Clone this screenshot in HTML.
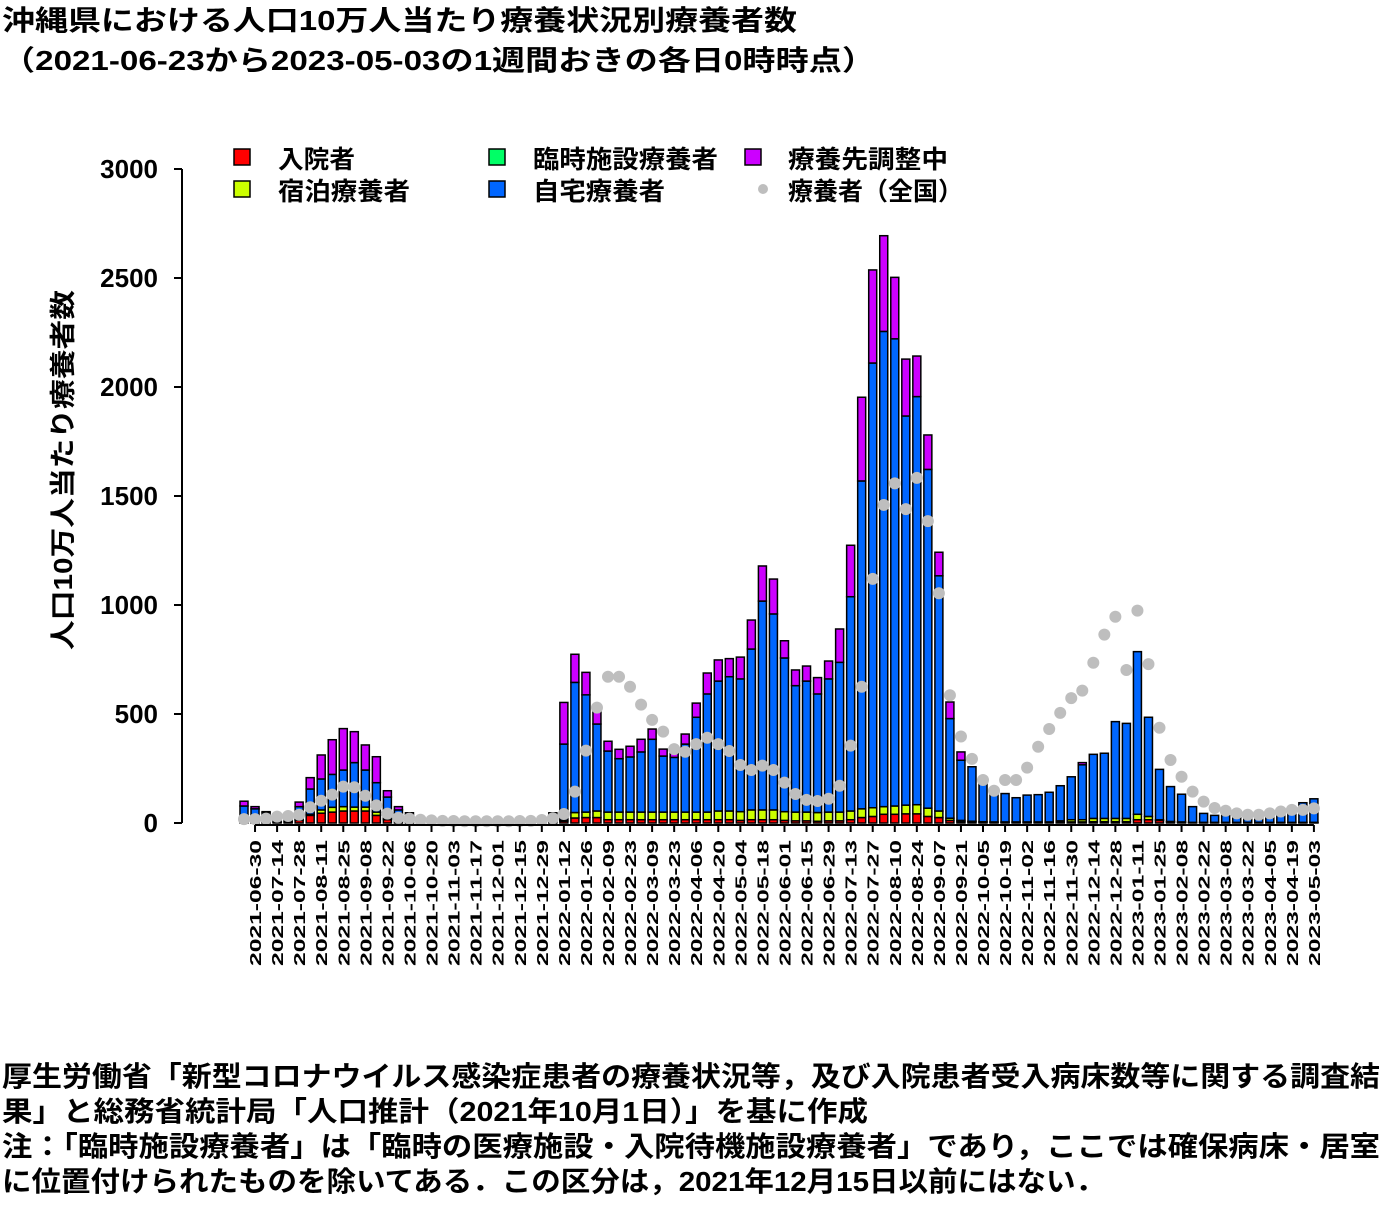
<!DOCTYPE html>
<html><head><meta charset="utf-8"><style>
body{margin:0;background:#fff;}
svg text{font-family:"Liberation Sans","Noto Sans CJK JP",sans-serif;font-weight:bold;fill:#000;}
</style></head><body>
<svg id="chart" width="1400" height="1200" xmlns="http://www.w3.org/2000/svg">
<text x="2" y="30" font-size="28" textLength="795" lengthAdjust="spacingAndGlyphs">沖縄県における人口10万人当たり療養状況別療養者数</text>
<text x="2" y="70" font-size="28" textLength="873" lengthAdjust="spacingAndGlyphs">（2021-06-23から2023-05-03の1週間おきの各日0時時点）</text>
<text transform="translate(72,470) rotate(-90)" text-anchor="middle" font-size="26" textLength="360" lengthAdjust="spacingAndGlyphs">人口10万人当たり療養者数</text>
<g id="yaxis"></g>
<g id="bars"></g>
<g id="dots"></g>
<g id="xaxis"></g>
<g>
<g><rect x="234" y="149" width="16" height="16" fill="#ff0000" stroke="#000" stroke-width="1.5"/><text x="278" y="168" font-size="25" textLength="77" lengthAdjust="spacingAndGlyphs">入院者</text></g>
<g><rect x="234" y="181" width="16" height="16" fill="#ccff00" stroke="#000" stroke-width="1.5"/><text x="278" y="200" font-size="25" textLength="132" lengthAdjust="spacingAndGlyphs">宿泊療養者</text></g>
<g><rect x="489" y="149" width="16" height="16" fill="#00ff66" stroke="#000" stroke-width="1.5"/><text x="533" y="168" font-size="25" textLength="185" lengthAdjust="spacingAndGlyphs">臨時施設療養者</text></g>
<g><rect x="489" y="181" width="16" height="16" fill="#0066ff" stroke="#000" stroke-width="1.5"/><text x="533" y="200" font-size="25" textLength="132" lengthAdjust="spacingAndGlyphs">自宅療養者</text></g>
<g><rect x="745" y="149" width="16" height="16" fill="#cc00ff" stroke="#000" stroke-width="1.5"/><text x="788" y="168" font-size="25" textLength="160" lengthAdjust="spacingAndGlyphs">療養先調整中</text></g>
<g><circle cx="763" cy="189" r="5" fill="#bebebe"/><text x="788" y="200" font-size="25" textLength="175" lengthAdjust="spacingAndGlyphs">療養者（全国）</text></g>
</g>
<g font-size="28">
<text x="2" y="1086" font-size="28" textLength="1378" lengthAdjust="spacingAndGlyphs">厚生労働省「新型コロナウイルス感染症患者の療養状況等，及び入院患者受入病床数等に関する調査結</text>
<text x="2" y="1121" font-size="28" textLength="866" lengthAdjust="spacingAndGlyphs">果」と総務省統計局「人口推計（2021年10月1日）」を基に作成</text>
<text x="2" y="1156" font-size="28" textLength="1378" lengthAdjust="spacingAndGlyphs">注：「臨時施設療養者」は「臨時の医療施設・入院待機施設療養者」であり，ここでは確保病床・居室</text>
<text x="2" y="1191" font-size="28" textLength="1103" lengthAdjust="spacingAndGlyphs">に位置付けられたものを除いてある．この区分は，2021年12月15日以前にはない．</text>
</g>
</svg>
<script>
const inpatient=[5,4,3,3,4,12,35,45,50,55,55,55,35,15,8,5,1,1,1,1,1,1,1,1,1,1,1,1,5,8,23,25,25,15,15,15,15,15,15,15,15,15,15,15,15,12,15,15,15,12,10,10,8,10,10,15,25,30,40,40,42,42,30,25,12,6,5,4,3,3,3,3,3,3,4,5,5,6,6,6,6,15,15,12,5,3,2,2,2,2,2,2,2,2,2,2,2,2];
const hotel=[2,2,2,1,2,3,5,15,22,20,18,18,15,5,3,2,1,1,1,1,1,1,1,1,1,1,1,1,3,5,25,25,30,35,35,35,35,35,35,35,35,35,35,40,40,40,45,45,45,40,40,40,40,40,40,40,40,40,35,38,40,42,38,30,10,6,3,2,2,2,2,2,2,2,6,10,10,15,15,15,15,25,15,3,2,2,1,1,1,1,1,1,1,1,1,1,1,1];
const facility=new Array(98).fill(0);
const home=[71,59,43,24,30,60,116,142,151,168,204,170,135,99,49,28,3,3,3,3,3,3,3,3,3,3,3,3,32,349,597,538,399,280,245,253,276,334,257,251,312,435,542,596,616,609,738,958,899,705,580,601,544,611,687,983,1504,2040,2180,2143,1785,1872,1554,1079,457,276,250,176,131,130,111,123,125,136,161,197,252,294,299,444,436,746,455,231,160,127,72,41,32,32,30,29,30,32,37,52,90,108];
const adjusting=[22,10,4,2,4,21,52,110,159,190,142,115,119,29,15,12,1,1,1,1,1,1,1,1,1,1,1,1,7,191,129,103,57,45,43,49,58,47,32,38,46,65,96,97,83,100,133,161,160,79,72,69,75,82,153,236,384,427,439,282,261,186,158,108,76,38,0,0,0,0,0,0,0,0,0,0,10,0,0,0,0,0,0,0,0,0,0,0,0,0,0,0,0,0,0,0,0,0];
const national=[18,18,20,29,32,38,72,102,130,167,164,125,81,43,24,20,15,12,10,9,8,8,8,8,8,9,10,14,22,41,144,332,529,671,671,625,543,473,419,339,327,362,391,362,330,266,243,263,243,185,133,106,101,111,171,355,625,1120,1459,1558,1440,1583,1385,1054,586,397,294,197,148,197,197,254,350,431,505,573,607,735,864,946,702,974,729,437,289,212,144,98,69,56,44,38,38,44,53,60,60,67];
const yTicks=[0,500,1000,1500,2000,2500,3000];
const startDate=new Date(Date.UTC(2021,5,23));
const NS="http://www.w3.org/2000/svg";
const y=v=>823-v*0.218;
const x=i=>244+i*11.03;
function mk(tag,attrs,parent){const e=document.createElementNS(NS,tag);for(const k in attrs)e.setAttribute(k,attrs[k]);parent.appendChild(e);return e;}
const yax=document.getElementById('yaxis');
const yl=mk('line',{x1:182,x2:182,y1:y(3000),y2:y(0),stroke:'#000','stroke-width':2},yax);


yTicks.forEach(t=>{
  const tk=mk('line',{x1:174,x2:182,y1:y(t),y2:y(t),stroke:'#000','stroke-width':2},yax);
  
  
  const tx=mk('text',{x:158,y:y(t)+9,'text-anchor':'end','font-size':26},yax);
  
  
  tx.textContent=String(t);
});
const series=[[inpatient,'#ff0000','inpatient'],[hotel,'#ccff00','hotel'],[facility,'#00ff66','temp-facility'],[home,'#0066ff','home'],[adjusting,'#cc00ff','adjusting']];
const bg=document.getElementById('bars');
for(let i=0;i<home.length;i++){
  let base=0;
  series.forEach(([arr,col,nm])=>{
    const v=arr[i];
    if(v<=0){return;}
    const r=mk('rect',{x:x(i)-4,y:y(base+v),width:8,height:v*0.218,fill:col,stroke:'#000','stroke-width':1.5},bg);
    
    
    base+=v;
  });
}
const dg=document.getElementById('dots');
national.forEach((v,i)=>{
  const c=mk('circle',{cx:x(i),cy:y(v),r:6,fill:'#bebebe'},dg);
  
  
});
const xg=document.getElementById('xaxis');
const xl=mk('line',{x1:x(1),x2:x(97),y1:825,y2:825,stroke:'#000','stroke-width':2},xg);


for(let i=1;i<home.length;i+=2){
  const d=new Date(startDate.getTime()+i*7*86400000);
  const lab=d.toISOString().slice(0,10);
  const tk=mk('line',{x1:x(i),x2:x(i),y1:825,y2:832,stroke:'#000','stroke-width':2},xg);
  
  
  const tx=mk('text',{transform:'translate('+(x(i)+6)+',840) rotate(-90)','text-anchor':'end','font-size':16,textLength:126,lengthAdjust:'spacingAndGlyphs'},xg);
  
  
  tx.textContent=lab;
}
</script>
</body></html>
